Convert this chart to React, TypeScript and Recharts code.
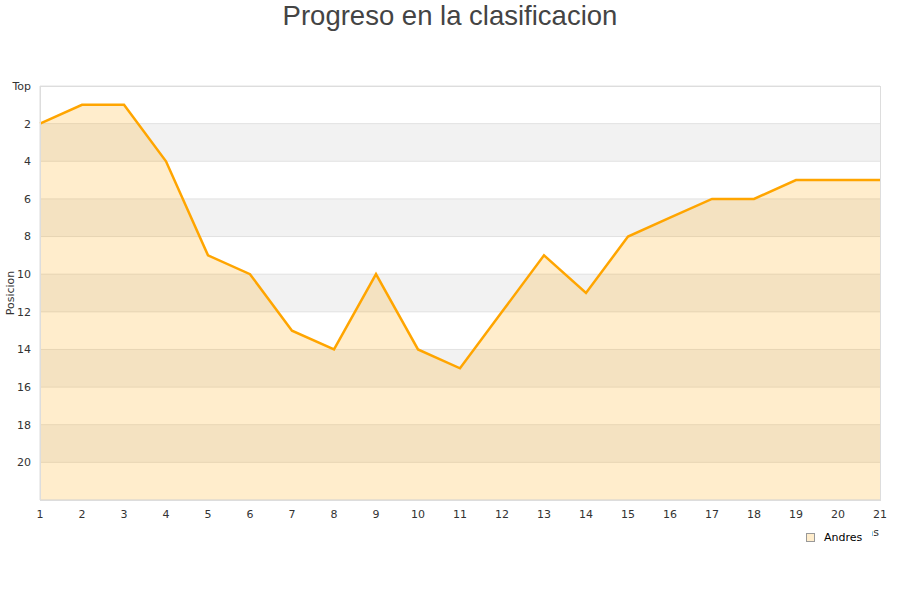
import React from 'react';
import { ComposedChart, Area, XAxis, YAxis, CartesianGrid, Legend } from 'recharts';

const rounds = [1, 2, 3, 4, 5, 6, 7, 8, 9, 10, 11, 12, 13, 14, 15, 16, 17, 18, 19, 20, 21];
const andres = [2, 1, 1, 4, 9, 10, 13, 14, 10, 14, 15, 12, 9, 11, 8, 7, 6, 6, 5, 5, 5];
const yTicks = [0, 2, 4, 6, 8, 10, 12, 14, 16, 18, 20];
const xTicks = rounds;
const seriesName = 'Andres';
const title = 'Progreso en la clasificacion';
const yLabel = 'Posicion';
const xLabel = 'Jornadas';

const data = rounds.map((r, i) => ({ jornada: r, Andres: andres[i] }));

const LegendContent = () => (
  <div style={{ display: 'flex', alignItems: 'center', background: '#fff', fontFamily: 'DejaVu Sans', fontSize: 11, color: '#000', height: 26, paddingLeft: 6 }}>
    <span style={{ display: 'inline-block', width: 7, height: 7, background: '#ffedcc', border: '1px solid #999', marginRight: 9 }} />
    <span>{seriesName}</span>
  </div>
);

export default function App() {
  return (
    <div style={{ position: 'absolute', left: 0, top: 0, width: 900, height: 600, background: '#fff' }}>
      <div style={{ position: 'absolute', left: 0, top: 0, width: 900, textAlign: 'center', fontFamily: 'Liberation Sans, Arial, sans-serif', fontSize: 27.5, color: '#444', lineHeight: '31px' }}>
        {title}
      </div>
      <ComposedChart width={900} height={600} data={data} margin={{ top: 86, right: 20, bottom: 70, left: 0 }}>
        <CartesianGrid vertical={false} stroke="#e2e2e2" horizontalFill={['#ffffff', '#f2f2f2']} />
        <XAxis
          dataKey="jornada"
          type="number"
          domain={[1, 21]}
          ticks={xTicks}
          interval={0}
          height={30}
          axisLine={{ stroke: '#dddddd' }}
          tickLine={false}
          tick={{ fill: '#333', fontSize: 11, fontFamily: 'DejaVu Sans', dy: 2 }}
          label={{ value: xLabel, position: 'insideBottomRight', offset: 0, dy: 6, dx: -1, fill: '#333', fontSize: 11, fontFamily: 'DejaVu Sans' }}
        />
        <YAxis
          reversed
          type="number"
          domain={[0, 22]}
          ticks={yTicks}
          interval={0}
          width={40}
          axisLine={{ stroke: '#dddddd' }}
          tickLine={false}
          tickFormatter={(v: number) => (v === 0 ? 'Top' : String(v))}
          tick={{ fill: '#333', fontSize: 11, fontFamily: 'DejaVu Sans', dx: -1 }}
          label={{ value: yLabel, angle: -90, position: 'center', dx: -10, fill: '#333', fontSize: 11, fontFamily: 'DejaVu Sans' }}
        />
        <Area
          type="linear"
          dataKey="Andres"
          name={seriesName}
          baseValue={22}
          stroke="#ffa500"
          strokeWidth={2.5}
          fill="#ffa500"
          fillOpacity={0.2}
          dot={false}
          activeDot={false}
          isAnimationActive={false}
        />
        <Legend
          layout="horizontal"
          verticalAlign="middle"
          align="center"
          content={<LegendContent />}
          wrapperStyle={{ left: 800, top: 524, width: 72, height: 26 }}
        />
      </ComposedChart>
      <div style={{ position: 'absolute', left: 40, top: 86, width: 839, height: 413, border: '1px solid #dddddd', pointerEvents: 'none' }} />
    </div>
  );
}
